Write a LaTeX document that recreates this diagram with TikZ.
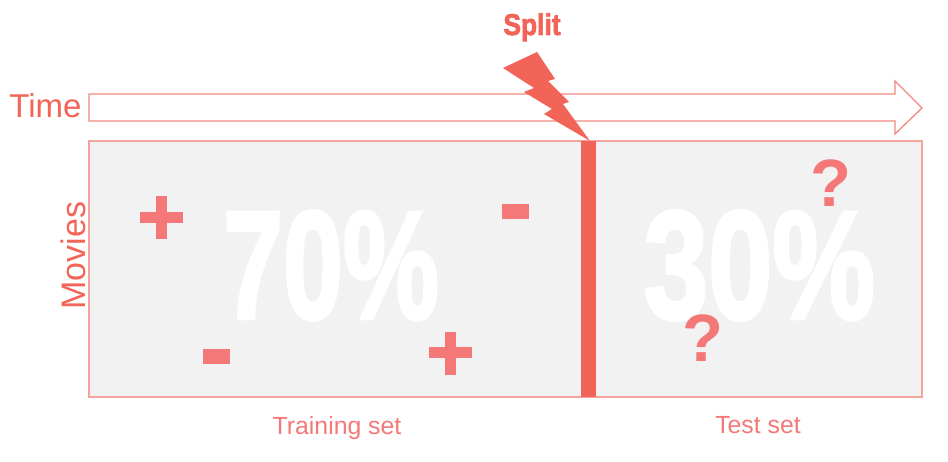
\documentclass[tikz,border=0pt]{standalone}
\usepackage{fontspec}
\setmainfont{Liberation Sans}
\newfontfamily\heavyfont{Liberation Sans Bold}[FakeBold=2.5]
\definecolor{mainred}{HTML}{F26457}
\definecolor{signred}{HTML}{F37877}
\definecolor{boxline}{HTML}{F5A39D}
\definecolor{arrowline}{HTML}{F08A80}
\definecolor{panelgray}{HTML}{F2F2F2}
\tikzset{
  lbl/.style={inner sep=0pt, outer sep=0pt, anchor=base},
  sign/.style={fill=signred, draw=none},
  qmark/.style={lbl, text=signred, font=\bfseries\fontsize{67pt}{67pt}\selectfont},
  bigpct/.style={lbl, text=white, font=\heavyfont\fontsize{154pt}{154pt}\selectfont},
  setlabel/.style={lbl, text=signred, font=\fontsize{24.8pt}{24.8pt}\selectfont},
}
\begin{document}
\begin{tikzpicture}[x=1pt,y=-1pt]
\useasboundingbox (0,0) rectangle (948,462);
% panel
\draw[fill=panelgray, draw=boxline, line width=1.5pt] (89,141) rectangle (922,397);
% big percentages
\node[bigpct] (p70) at (331,318.5) {\scalebox{0.70}[1]{70\%}};
\node[bigpct] (p30) at (759.5,318.5) {\scalebox{0.75}[1]{30\%}};
% time arrow
\draw[fill=white, draw=arrowline, line width=1.3pt, line join=miter]
  (89,94) -- (895,94) -- (895,81) -- (922,108) -- (895,134) -- (895,121) -- (89,121) -- cycle;
\node[lbl, text=mainred, font=\fontsize{33pt}{33pt}\selectfont] (time) at (45.5,118) {Time};
\node[lbl, text=mainred, font=\fontsize{34pt}{34pt}\selectfont, rotate=90] (movies) at (85,255.5) {Movies};
% split bar
\fill[mainred] (580.5,141) rectangle (596,397);
% lightning
\fill[mainred] (503,68) -- (537,52) -- (555,79) -- (548,81) -- (569,102) -- (563,104) -- (590,141)
  -- (544,114) -- (552,109) -- (524,92) -- (534,88) -- cycle;
\node[lbl, text=mainred, font=\heavyfont\fontsize{30pt}{30pt}\selectfont] (split) at (532,35) {\scalebox{0.88}[1]{Split}};
% signs
\fill[sign] (139.5,212.5) rectangle (182.5,223.5);
\fill[sign] (155.5,196.5) rectangle (166.5,239.5);
\fill[sign] (429,347.5) rectangle (472,358.5);
\fill[sign] (445,332) rectangle (456,375);
\fill[sign] (202.5,349) rectangle (230,363.5);
\fill[sign] (502,204) rectangle (529,219);
% question marks
\node[qmark] (q1) at (831,207) {?};
\node[qmark] (q2) at (703,361) {?};
% set labels
\node[setlabel] (train) at (337,434) {Training set};
\node[setlabel] (test) at (758,433) {Test set};
\end{tikzpicture}
\end{document}
